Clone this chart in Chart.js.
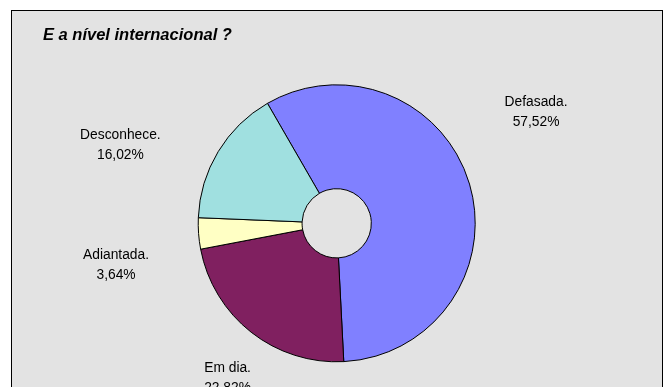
<!DOCTYPE html>
<html lang="pt">
<head>
<meta charset="utf-8">
<title>E a nível internacional ?</title>
<script src="https://cdn.jsdelivr.net/npm/chart.js@4.4.1/dist/chart.umd.min.js"></script>
<style>
    html, body { margin: 0; padding: 0; background: #ffffff; }
    #wrap { width: 668px; height: 387px; }
</style>
</head>
<body>
<div id="wrap"><canvas id="pieChart" width="668" height="387"></canvas></div>
<script>
// Dados do gráfico
const categorias = ['Defasada.', 'Em dia.', 'Adiantada.', 'Desconhece.'];
const percentuais = [57.52, 22.82, 3.64, 16.02];
const cores = ['#8080ff', '#802060', '#ffffc4', '#a0e0e0'];

// Posição dos rótulos: ângulo (graus, a partir do topo) e distância em raios
const rotuloAngulo = [60.8, 215.2, -100.8, -70.1];
const rotuloDistancia = [1.649, 1.367, 1.622, 1.661];

// Moldura cinza por trás do gráfico
const fundoPlugin = {
    id: 'fundo',
    beforeDraw(chart) {
        const ctx = chart.ctx;
        ctx.save();
        ctx.fillStyle = '#e3e3e3';
        ctx.fillRect(11, 10, 652, 390);
        ctx.strokeStyle = '#000000';
        ctx.lineWidth = 1;
        ctx.strokeRect(11.5, 10.5, 651, 390);
        ctx.restore();
    }
};

// Rótulos com nome e percentual de cada fatia
const rotulosPlugin = {
    id: 'rotulos',
    afterDatasetsDraw(chart) {
        const ctx = chart.ctx;
        const meta = chart.getDatasetMeta(0);
        ctx.save();
        ctx.font = '13.8px "Liberation Sans", Arial, sans-serif';
        ctx.fillStyle = '#000000';
        ctx.textAlign = 'center';
        ctx.textBaseline = 'middle';
        meta.data.forEach((arc, i) => {
            const a = rotuloAngulo[i] * Math.PI / 180;
            const r = arc.outerRadius * rotuloDistancia[i];
            const x = arc.x + Math.sin(a) * r;
            const y = arc.y - Math.cos(a) * r;
            const valor = percentuais[i].toFixed(2).replace('.', ',') + '%';
            ctx.fillText(categorias[i], x, y - 10);
            ctx.fillText(valor, x, y + 10);
        });
        ctx.restore();
    }
};

const ctx = document.getElementById('pieChart').getContext('2d');
const pieChart = new Chart(ctx, {
    type: 'doughnut',
    data: {
        labels: categorias,
        datasets: [{
            data: percentuais,
            backgroundColor: cores,
            borderColor: '#000000',
            borderWidth: 1
        }]
    },
    options: {
        responsive: false,
        animation: false,
        rotation: -30,
        cutout: '25%',
        radius: 138.5,
        layout: {
            padding: { left: 43, right: 37.6, top: 10, bottom: 0 }
        },
        plugins: {
            legend: { display: false },
            tooltip: { enabled: false },
            title: {
                display: true,
                text: 'E a nível internacional ?',
                align: 'start',
                color: '#000000',
                font: { family: '"Liberation Sans", Arial, sans-serif', size: 16.5, weight: 'bold', style: 'italic', lineHeight: 1.2 },
                padding: { top: 15.1, bottom: 14.7 }
            }
        }
    },
    plugins: [fundoPlugin, rotulosPlugin]
});
</script>
</body>
</html>
